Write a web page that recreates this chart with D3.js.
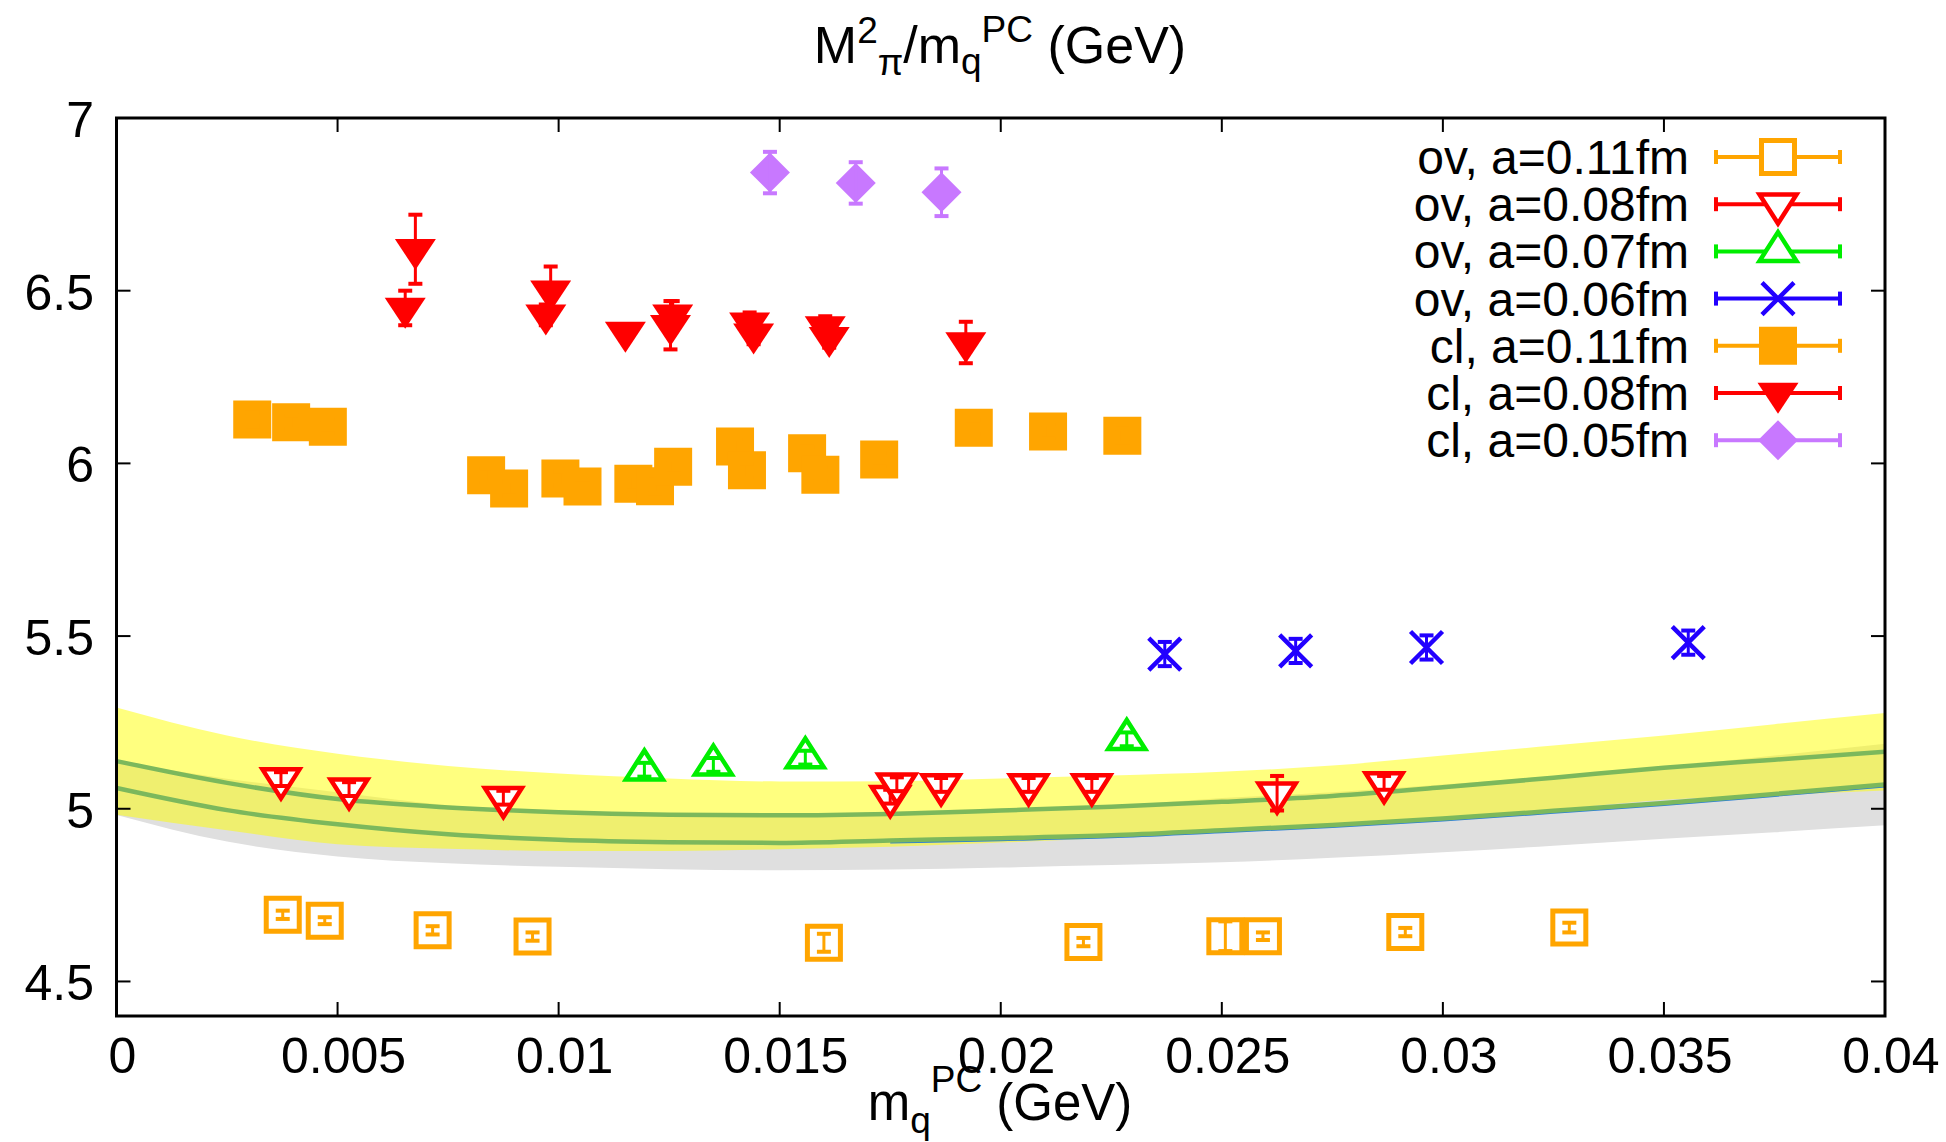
<!DOCTYPE html>
<html>
<head>
<meta charset="utf-8">
<script src="https://cdn.jsdelivr.net/npm/d3@7"></script>
<style>
  html, body { margin: 0; padding: 0; background: #fff; }
  svg { display: block; }
  text { font-family: "Liberation Sans", Arial, Helvetica, sans-serif; fill: #000; }
</style>
</head>
<body>
<svg id="chart" width="1946" height="1142"></svg>
<script>
// ---------- axis ticks ----------
const xTicks = [0, 0.005, 0.01, 0.015, 0.02, 0.025, 0.03, 0.035, 0.04];
const xTickLabels = ["0", "0.005", "0.01", "0.015", "0.02", "0.025", "0.03", "0.035", "0.04"];
const yTicks = [4.5, 5, 5.5, 6, 6.5, 7];
const yTickLabels = ["4.5", "5", "5.5", "6", "6.5", "7"];

// ---------- chiral fit curves (central value and error band) ----------
const fitX = [0, 0.0025, 0.005, 0.0075, 0.01, 0.0125, 0.015, 0.0175, 0.02,
              0.0225, 0.025, 0.0275, 0.03, 0.0325, 0.035, 0.0375, 0.04];
const fitACenter = [5.138, 5.075, 5.028, 5.004, 4.990, 4.983, 4.981, 4.985, 4.995,
                    5.006, 5.020, 5.037, 5.062, 5.090, 5.119, 5.142, 5.165];
const fitAUpper  = [5.293, 5.212, 5.159, 5.124, 5.102, 5.088, 5.079, 5.080, 5.088,
                    5.096, 5.107, 5.125, 5.154, 5.183, 5.212, 5.245, 5.277];
const fitALower  = [4.983, 4.938, 4.897, 4.884, 4.878, 4.878, 4.883, 4.890, 4.902,
                    4.916, 4.933, 4.949, 4.970, 4.997, 5.026, 5.039, 5.053];
const fitBCenter = [5.060, 4.996, 4.955, 4.926, 4.910, 4.903, 4.901, 4.908, 4.915,
                    4.923, 4.938, 4.953, 4.972, 4.994, 5.017, 5.043, 5.070];
const fitBUpper  = [5.138, 5.087, 5.048, 5.010, 4.988, 4.981, 4.980, 4.992, 5.000,
                    5.009, 5.031, 5.048, 5.070, 5.095, 5.121, 5.154, 5.188];
const fitBLower  = [4.982, 4.905, 4.862, 4.842, 4.832, 4.825, 4.822, 4.824, 4.830,
                    4.837, 4.845, 4.858, 4.874, 4.893, 4.913, 4.932, 4.952];

// ---------- lattice points: [m_q, M_pi^2/m_q, error] ----------
const ovA011 = [
  [0.00376, 4.693, 0.012], [0.00471, 4.676, 0.010], [0.00715, 4.648, 0.012],
  [0.00941, 4.630, 0.012], [0.01600, 4.612, 0.026], [0.02187, 4.614, 0.012],
  [0.02508, 4.631, 0.043], [0.02593, 4.631, 0.011], [0.02915, 4.643, 0.012],
  [0.03286, 4.656, 0.014]
];
const ovA008 = [
  [0.00372, 5.086, 0.02], [0.00526, 5.057, 0.02], [0.00875, 5.032, 0.02],
  [0.01750, 5.035, 0.02], [0.01765, 5.071, 0.02], [0.01865, 5.069, 0.02],
  [0.02063, 5.069, 0.02], [0.02206, 5.069, 0.02], [0.02625, 5.045, 0.05],
  [0.02867, 5.075, 0.02]
];
const ovA007 = [
  [0.01194, 5.113, 0.02], [0.01350, 5.127, 0.02], [0.01558, 5.148, 0.02],
  [0.02285, 5.201, 0.02]
];
const ovA006 = [
  [0.02371, 5.448, 0.035], [0.02667, 5.457, 0.035], [0.02963, 5.467, 0.035],
  [0.03555, 5.481, 0.035]
];
const clA011 = [
  [0.00307, 6.127, 0.02], [0.00395, 6.119, 0.02], [0.00478, 6.106, 0.02],
  [0.00836, 5.966, 0.02], [0.00888, 5.927, 0.02], [0.01004, 5.956, 0.02],
  [0.01054, 5.933, 0.02], [0.01169, 5.941, 0.02], [0.01218, 5.934, 0.02],
  [0.01259, 5.990, 0.02], [0.01399, 6.049, 0.02], [0.01426, 5.980, 0.02],
  [0.01562, 6.029, 0.02], [0.01592, 5.967, 0.02], [0.01725, 6.011, 0.02],
  [0.01939, 6.103, 0.02], [0.02107, 6.092, 0.02], [0.02275, 6.080, 0.02]
];
const clA008 = [
  [0.00653, 6.450, 0.05], [0.00676, 6.620, 0.10], [0.00971, 6.430, 0.03],
  [0.00982, 6.500, 0.07], [0.01151, 6.380, 0.02], [0.01253, 6.400, 0.07],
  [0.01258, 6.430, 0.04], [0.01432, 6.407, 0.03], [0.01441, 6.375, 0.03],
  [0.01603, 6.396, 0.03], [0.01612, 6.365, 0.03], [0.01921, 6.350, 0.06]
];
const clA005 = [
  [0.01478, 6.842, 0.060], [0.01672, 6.812, 0.060], [0.01866, 6.785, 0.069]
];

const seriesLabels = ["ov, a=0.11fm", "ov, a=0.08fm", "ov, a=0.07fm", "ov, a=0.06fm",
                      "cl, a=0.11fm", "cl, a=0.08fm", "cl, a=0.05fm"];
const seriesData = [ovA011, ovA008, ovA007, ovA006, clA011, clA008, clA005];
const seriesColors = ["#ffa500", "#ff0000", "#00ee00", "#2200ff", "#ffa500", "#ff0000", "#c878ff"];
const seriesSymbols = ["openSquare", "openDown", "openUp", "cross", "square", "down", "diamond"];

// ---------- layout ----------
const svg = d3.select("#chart");
const plot = { left: 116.5, right: 1885, top: 118, bottom: 1016 };
const x = d3.scaleLinear().domain([0, 0.04]).range([plot.left, plot.right]);
const y = d3.scaleLinear().domain([4.4, 7]).range([plot.bottom, plot.top]);

svg.append("defs").append("clipPath").attr("id", "plotClip")
  .append("rect")
  .attr("x", plot.left).attr("y", plot.top)
  .attr("width", plot.right - plot.left).attr("height", plot.bottom - plot.top);

// ---------- fit bands ----------
const bandGroup = svg.append("g").attr("clip-path", "url(#plotClip)");
const idx = fitX.map((d, i) => i);
const area = (lo, hi) => d3.area()
  .x(i => x(fitX[i]))
  .y0(i => y(lo[i]))
  .y1(i => y(hi[i]))
  .curve(d3.curveMonotoneX)(idx);
const line = (vals, ids) => d3.line()
  .x(i => x(fitX[i]))
  .y(i => y(vals[i]))
  .curve(d3.curveMonotoneX)(ids || idx);

bandGroup.append("path").attr("d", area(fitBLower, fitBUpper)).attr("fill", "#dfdfdf");
bandGroup.append("path").attr("d", area(fitALower, fitAUpper))
  .attr("fill", "#ffff00").attr("fill-opacity", 0.5);
// thin blue central line of the second fit, visible below its green line at larger m_q
bandGroup.append("path").attr("d", line(fitBCenter, idx.filter(i => fitX[i] >= 0.0175)))
  .attr("fill", "none").attr("stroke", "#2a7fd6").attr("stroke-width", 2)
  .attr("transform", "translate(0,2)");
[fitACenter, fitBCenter].forEach(v => {
  bandGroup.append("path").attr("d", line(v))
    .attr("fill", "none").attr("stroke", "#7cb85c").attr("stroke-width", 4.5);
});

// ---------- symbols ----------
const symbolSpec = {
  openSquare: { d: "M-16.5,-16.5H16.5V16.5H-16.5Z", fill: "#fff", sw: 5 },
  square:     { d: "M-19,-19H19V19H-19Z", fill: null, sw: 0 },
  openDown:   { d: "M-18.5,-9.7L18.5,-9.7L0,19.3Z", fill: "#fff", sw: 4.5 },
  down:       { d: "M-20.5,-10.3L20.5,-10.3L0,20.7Z", fill: null, sw: 0 },
  openUp:     { d: "M-18.5,9.7L18.5,9.7L0,-19.3Z", fill: "#fff", sw: 4.5 },
  cross:      { d: "M-16,-16L16,16M-16,16L16,-16", fill: "none", sw: 4.5 },
  diamond:    { d: "M0,-20L20,0L0,20L-20,0Z", fill: null, sw: 0 }
};

function drawSymbol(g, type, color, cx, cy) {
  const s = symbolSpec[type];
  g.append("path")
    .attr("d", s.d)
    .attr("transform", `translate(${cx},${cy})`)
    .attr("fill", s.fill === null ? color : s.fill)
    .attr("stroke", s.sw ? color : "none")
    .attr("stroke-width", s.sw)
    .attr("stroke-linejoin", "miter");
}

function drawErrorBar(g, color, cx, yTop, yBot) {
  g.append("line").attr("x1", cx).attr("x2", cx).attr("y1", yTop).attr("y2", yBot)
    .attr("stroke", color).attr("stroke-width", 3);
  [yTop, yBot].forEach(yy => {
    g.append("line").attr("x1", cx - 7).attr("x2", cx + 7).attr("y1", yy).attr("y2", yy)
      .attr("stroke", color).attr("stroke-width", 4);
  });
}

const pointsGroup = svg.append("g");
seriesData.forEach((data, si) => {
  const g = pointsGroup.append("g");
  data.forEach(([mq, v, e]) => {
    const cx = x(mq), cy = y(v);
    drawSymbol(g, seriesSymbols[si], seriesColors[si], cx, cy);
    drawErrorBar(g, seriesColors[si], cx, y(v + e), y(v - e));
  });
});

// ---------- frame and ticks ----------
const axisGroup = svg.append("g");
const tickLen = 14;
xTicks.forEach((t, i) => {
  const px = x(t);
  axisGroup.append("line").attr("x1", px).attr("x2", px)
    .attr("y1", plot.bottom).attr("y2", plot.bottom - tickLen).attr("stroke", "#000").attr("stroke-width", 2);
  axisGroup.append("line").attr("x1", px).attr("x2", px)
    .attr("y1", plot.top).attr("y2", plot.top + tickLen).attr("stroke", "#000").attr("stroke-width", 2);
  axisGroup.append("text").attr("x", px + 6).attr("y", 1073)
    .attr("text-anchor", "middle").attr("font-size", 50).text(xTickLabels[i]);
});
yTicks.forEach((t, i) => {
  const py = y(t);
  axisGroup.append("line").attr("x1", plot.left).attr("x2", plot.left + tickLen)
    .attr("y1", py).attr("y2", py).attr("stroke", "#000").attr("stroke-width", 2);
  axisGroup.append("line").attr("x1", plot.right).attr("x2", plot.right - tickLen)
    .attr("y1", py).attr("y2", py).attr("stroke", "#000").attr("stroke-width", 2);
  axisGroup.append("text").attr("x", 94).attr("y", py + 19)
    .attr("text-anchor", "end").attr("font-size", 50).text(yTickLabels[i]);
});
axisGroup.append("rect")
  .attr("x", plot.left).attr("y", plot.top)
  .attr("width", plot.right - plot.left).attr("height", plot.bottom - plot.top)
  .attr("fill", "none").attr("stroke", "#000").attr("stroke-width", 3);

// ---------- title and axis label ----------
const title = svg.append("text").attr("x", 1000).attr("y", 63)
  .attr("text-anchor", "middle").attr("font-size", 52);
title.append("tspan").text("M");
title.append("tspan").attr("font-size", 37).attr("dy", -20).text("2");
title.append("tspan").attr("font-size", 37).attr("dy", 32).text("π");
title.append("tspan").attr("dy", -12).text("/m");
title.append("tspan").attr("font-size", 37).attr("dy", 11).text("q");
title.append("tspan").attr("font-size", 37).attr("dy", -32).text("PC");
title.append("tspan").attr("dy", 21).text(" (GeV)");

const xLabel = svg.append("text").attr("x", 1000).attr("y", 1120)
  .attr("text-anchor", "middle").attr("font-size", 51);
xLabel.append("tspan").text("m");
xLabel.append("tspan").attr("font-size", 37).attr("dy", 13).text("q");
xLabel.append("tspan").attr("font-size", 37).attr("dy", -41).text("PC");
xLabel.append("tspan").attr("dy", 28).text(" (GeV)");

// ---------- legend ----------
const legend = svg.append("g");
seriesLabels.forEach((label, i) => {
  const ly = 157 + i * 47.2;
  const color = seriesColors[i];
  legend.append("text").attr("x", 1689).attr("y", ly + 17)
    .attr("text-anchor", "end").attr("font-size", 48).text(label);
  legend.append("line").attr("x1", 1716).attr("x2", 1840).attr("y1", ly).attr("y2", ly)
    .attr("stroke", color).attr("stroke-width", 4);
  [1716, 1840].forEach(px => {
    legend.append("line").attr("x1", px).attr("x2", px).attr("y1", ly - 7).attr("y2", ly + 7)
      .attr("stroke", color).attr("stroke-width", 4);
  });
  drawSymbol(legend, seriesSymbols[i], color, 1778, ly);
});
</script>
</body>
</html>
